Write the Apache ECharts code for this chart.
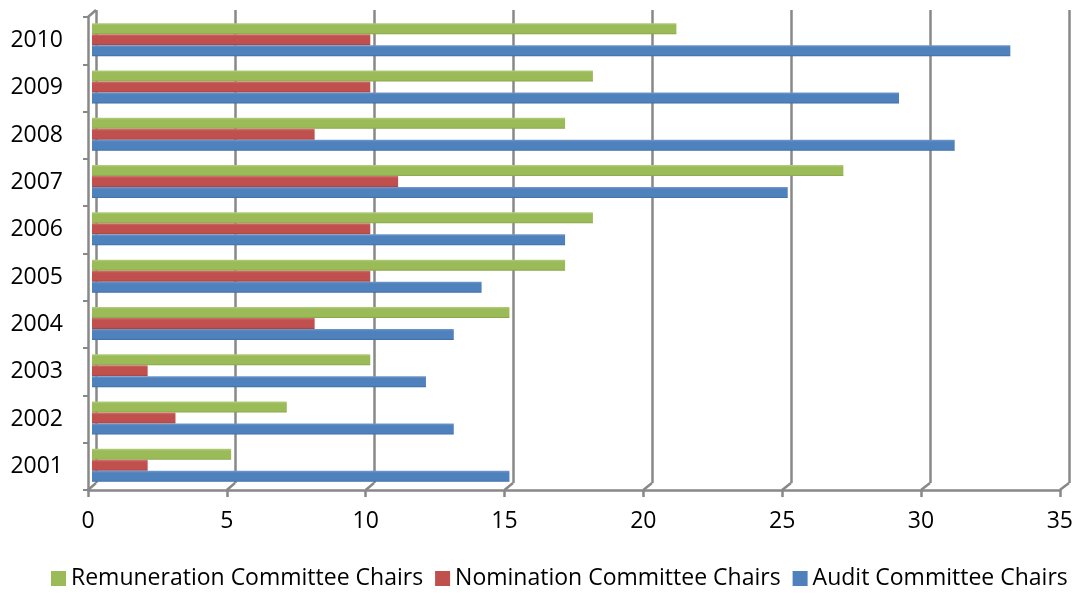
<!DOCTYPE html>
<html>
<head>
<meta charset="utf-8">
<title>Committee Chairs 2001–2010</title>
<script src="https://cdn.jsdelivr.net/npm/echarts@6/dist/echarts.min.js"></script>
<style>
  html, body { margin: 0; padding: 0; background: #fff; }
  #chart { width: 1076px; height: 598px; }
</style>
</head>
<body>
<div id="chart"></div>
<script>
// Years on the category axis (bottom to top)
const years = ['2001', '2002', '2003', '2004', '2005', '2006', '2007', '2008', '2009', '2010'];

// Number of chairs per year
const auditChairs        = [15, 13, 12, 13, 14, 17, 25, 31, 29, 33];
const nominationChairs   = [2, 3, 2, 8, 10, 10, 11, 8, 10, 10];
const remunerationChairs = [5, 7, 10, 15, 17, 18, 27, 17, 18, 21];

// Value axis range
const xMin = 0;
const xMax = 35;
const xStep = 5;

const FONT = '"Open Sans", "Liberation Sans", sans-serif';
const GRID_COLOR = '#888888';

const GREEN = '#9BBB59';
const RED = '#C0504D';
const BLUE = '#4F81BD';

function barStyle(light, base, dark) {
  return {
    color: new echarts.graphic.LinearGradient(0, 0, 0, 1, [
      { offset: 0, color: light },
      { offset: 0.2, color: base },
      { offset: 0.85, color: base },
      { offset: 1, color: dark }
    ]),
    shadowColor: 'rgba(0,0,0,0.3)',
    shadowBlur: 2,
    shadowOffsetX: 1.5,
    shadowOffsetY: 1
  };
}

const chart = echarts.init(document.getElementById('chart'), null, { renderer: 'canvas' });

const flat = { shadowBlur: 0, shadowOffsetX: 0, shadowOffsetY: 0, borderWidth: 0 };

const option = {
  animation: false,
  textStyle: { fontFamily: FONT },
  grid: [
    // front floor / axes
    { left: 88, right: 15, top: 17, bottom: 108 },
    // back wall with gridlines
    { left: 96, right: 7, top: 10, bottom: 115 },
    // bars, half way in depth
    { left: 92, right: 10, top: 16, bottom: 109 }
  ],
  xAxis: [
    {
      gridIndex: 0, type: 'value', min: xMin, max: xMax, interval: xStep,
      axisLine: { show: true, lineStyle: { color: GRID_COLOR, width: 2.5 } },
      axisTick: { show: true, length: 7, lineStyle: { color: GRID_COLOR, width: 2.5 } },
      axisLabel: { fontSize: 23, color: '#000', margin: 20, fontFamily: FONT },
      splitLine: { show: false }
    },
    {
      gridIndex: 1, type: 'value', min: xMin, max: xMax, interval: xStep,
      axisLine: { show: false }, axisTick: { show: false }, axisLabel: { show: false },
      splitLine: { show: true, lineStyle: { color: GRID_COLOR, width: 2.5 } }
    },
    {
      gridIndex: 2, type: 'value', min: xMin, max: xMax, interval: xStep, show: false
    }
  ],
  yAxis: [
    {
      gridIndex: 0, type: 'category', data: years,
      axisLine: { show: true, lineStyle: { color: GRID_COLOR, width: 2.5 } },
      axisTick: { show: true, length: 5, lineStyle: { color: GRID_COLOR, width: 2 } },
      axisLabel: { fontSize: 23, color: '#000', margin: 25, fontFamily: FONT },
      splitLine: { show: false }
    },
    {
      gridIndex: 1, type: 'category', data: years, show: false
    },
    {
      gridIndex: 2, type: 'category', data: years, show: false
    }
  ],
  legend: {
    bottom: 3,
    left: 46,
    icon: 'rect',
    itemWidth: 15,
    itemHeight: 15,
    itemGap: 12,
    textStyle: { fontSize: 23, color: '#000', fontFamily: FONT },
    data: [
      { name: 'Remuneration Committee Chairs', itemStyle: Object.assign({ color: GREEN }, flat) },
      { name: 'Nomination Committee Chairs', itemStyle: Object.assign({ color: RED }, flat) },
      { name: 'Audit Committee Chairs', itemStyle: Object.assign({ color: BLUE }, flat) }
    ]
  },
  series: [
    {
      name: 'Remuneration Committee Chairs', type: 'bar', xAxisIndex: 2, yAxisIndex: 2,
      data: remunerationChairs, barWidth: 11, barGap: '0%',
      itemStyle: barStyle('#B3CF7C', GREEN, '#86A647')
    },
    {
      name: 'Nomination Committee Chairs', type: 'bar', xAxisIndex: 2, yAxisIndex: 2,
      data: nominationChairs, barWidth: 11, barGap: '0%',
      itemStyle: barStyle('#D27572', RED, '#A43F3C')
    },
    {
      name: 'Audit Committee Chairs', type: 'bar', xAxisIndex: 2, yAxisIndex: 2,
      data: auditChairs, barWidth: 11, barGap: '0%',
      itemStyle: barStyle('#7299CB', BLUE, '#3E6CA5')
    }
  ]
};

chart.setOption(option);

// Short slanted connectors joining the floor ticks to the back-wall gridlines
function drawConnectors() {
  const fr = chart.getModel().getComponent('grid', 0).coordinateSystem.getRect();
  const br = chart.getModel().getComponent('grid', 1).coordinateSystem.getRect();
  const lines = [];
  for (let v = xMin; v <= xMax; v += xStep) {
    const front = chart.convertToPixel({ gridIndex: 0 }, [v, years[0]]);
    const back = chart.convertToPixel({ gridIndex: 1 }, [v, years[0]]);
    lines.push({
      type: 'line', silent: true, z: 1,
      shape: { x1: front[0], y1: fr.y + fr.height, x2: back[0], y2: br.y + br.height },
      style: { stroke: GRID_COLOR, lineWidth: 2.5 }
    });
  }
  lines.push({
    type: 'line', silent: true, z: 1,
    shape: { x1: fr.x, y1: fr.y, x2: br.x, y2: br.y },
    style: { stroke: GRID_COLOR, lineWidth: 2.5 }
  });
  chart.setOption({ graphic: lines });
}
drawConnectors();
</script>
</body>
</html>
